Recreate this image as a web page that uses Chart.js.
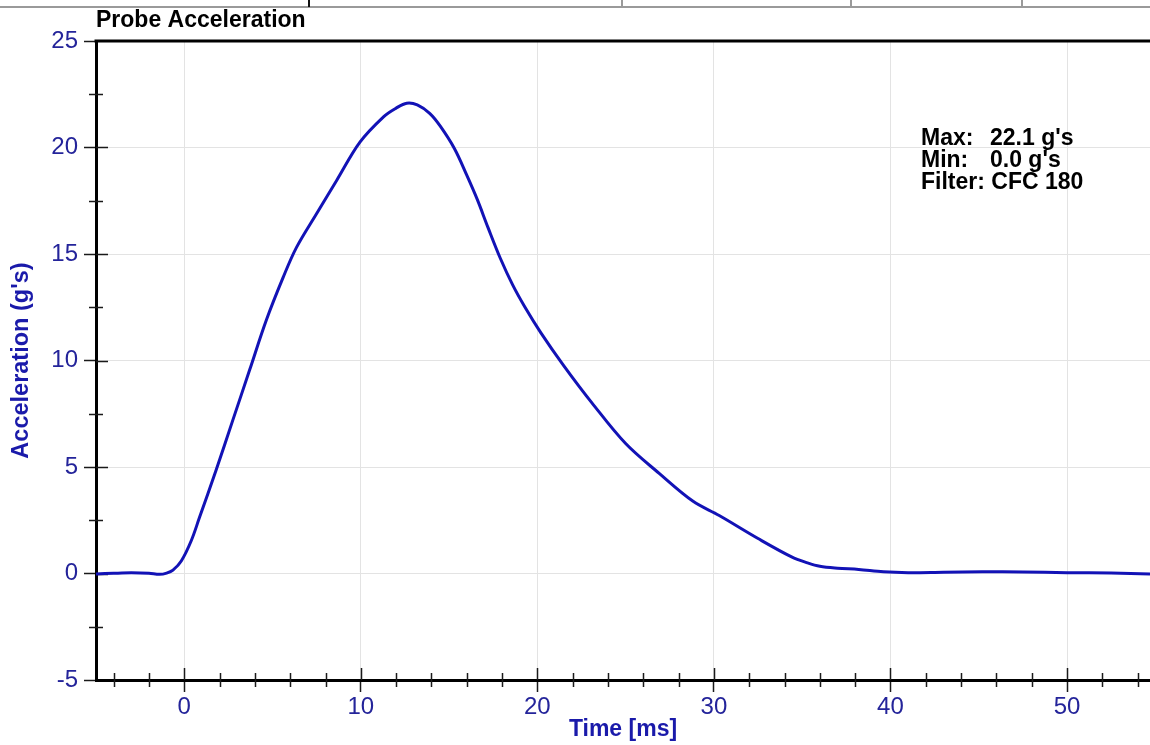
<!DOCTYPE html>
<html>
<head>
<meta charset="utf-8">
<script src="https://cdn.jsdelivr.net/npm/chart.js@4/dist/chart.umd.min.js"></script>
<style>
  html, body { margin: 0; padding: 0; background: #fff; overflow: hidden; }
  #wrap { width: 1150px; height: 745px; position: relative; }
</style>
</head>
<body>
<div id="wrap"><canvas id="c" width="1150" height="745"></canvas></div>
<script>
// ---- Data ----
const timeMs = [-5, -4, -3, -2, -1.4, -1.0, -0.64, -0.16, 0.4, 0.85, 1.8, 2.75, 3.7, 4.65, 5.6, 6.35, 7.5, 8.63, 9.95, 11.3, 12.0, 12.6, 13.2, 13.9, 14.5, 15.3, 16.0, 16.6, 17.2, 17.9, 18.6, 19.3, 20.2, 21.5, 23.1, 25.0, 26.9, 28.8, 30.3, 32.5, 34.4, 35.3, 36.0, 37.0, 38.2, 39.6, 41.0, 43.0, 45.2, 47.5, 50.0, 52.5, 54.7];
const accelG = [-0.02, 0.01, 0.03, 0.01, -0.04, 0.02, 0.16, 0.6, 1.55, 2.6, 4.85, 7.2, 9.55, 11.9, 13.9, 15.3, 16.9, 18.45, 20.25, 21.45, 21.85, 22.08, 22.0, 21.6, 21.0, 19.95, 18.7, 17.55, 16.25, 14.8, 13.55, 12.5, 11.3, 9.75, 8.0, 6.1, 4.7, 3.4, 2.72, 1.64, 0.78, 0.5, 0.34, 0.25, 0.19, 0.08, 0.04, 0.06, 0.08, 0.07, 0.04, 0.02, -0.02];
const xMajorTicks = [0, 10, 20, 30, 40, 50];
const xMinorTicks = [-4, -2, 2, 4, 6, 8, 12, 14, 16, 18, 22, 24, 26, 28, 32, 34, 36, 38, 42, 44, 46, 48, 52, 54];
const yMajorTicks = [-5, 0, 5, 10, 15, 20, 25];
const yMinorTicks = [-2.5, 2.5, 7.5, 12.5, 17.5, 22.5];
const xRange = [-5, 54.7];
const yRange = [-5, 25];
const chartTitle = 'Probe Acceleration';
const xTitle = 'Time [ms]';
const yTitle = "Acceleration (g's)";
const statLabels = ['Max:', 'Min:', 'Filter:'];
const statValues = ["22.1 g's", "0.0 g's", 'CFC 180'];

const FONT = "'Liberation Sans', Arial, sans-serif";
const TICK_COLOR = '#24249a';
const TITLE_COLOR = '#1a1aaa';

const decoPlugin = {
  id: 'deco',
  beforeDatasetsDraw(chart) {
    const { ctx, chartArea: a, scales: { x, y } } = chart;
    ctx.save();
    ctx.strokeStyle = '#1a1a1a';
    ctx.lineWidth = 1.5;
    ctx.beginPath();
    xMinorTicks.forEach(v => {
      const px = Math.round(x.getPixelForValue(v)) + 0.5;
      ctx.moveTo(px, a.bottom - 7); ctx.lineTo(px, a.bottom + 7);
    });
    xMajorTicks.forEach(v => {
      const px = Math.round(x.getPixelForValue(v)) + 0.5;
      ctx.moveTo(px, a.bottom - 12); ctx.lineTo(px, a.bottom);
    });
    yMinorTicks.forEach(v => {
      const py = Math.round(y.getPixelForValue(v)) + 0.5;
      ctx.moveTo(a.left - 7, py); ctx.lineTo(a.left + 7, py);
    });
    yMajorTicks.forEach(v => {
      if (v === yRange[0] || v === yRange[1]) return;
      const py = Math.round(y.getPixelForValue(v)) + 0.5;
      ctx.moveTo(a.left, py); ctx.lineTo(a.left + 12, py);
    });
    ctx.stroke();
    ctx.restore();
  },
  afterDraw(chart) {
    const { ctx, chartArea: a, width } = chart;
    ctx.save();
    // top frame line
    ctx.strokeStyle = '#000';
    ctx.lineWidth = 3;
    ctx.beginPath();
    ctx.moveTo(a.left - 1.5, a.top); ctx.lineTo(a.right, a.top);
    ctx.stroke();
    // strip of the header table above the chart
    ctx.strokeStyle = '#9a9a9a';
    ctx.lineWidth = 2;
    ctx.beginPath();
    ctx.moveTo(0, 7); ctx.lineTo(width, 7);
    [622, 851, 1022].forEach(px => { ctx.moveTo(px, 0); ctx.lineTo(px, 7); });
    ctx.stroke();
    ctx.strokeStyle = '#111';
    ctx.beginPath();
    ctx.moveTo(309, 0); ctx.lineTo(309, 7);
    ctx.stroke();
    // chart title
    ctx.fillStyle = '#000';
    ctx.font = 'bold 23px ' + FONT;
    ctx.textAlign = 'left';
    ctx.textBaseline = 'alphabetic';
    ctx.fillText(chartTitle, a.left, 27);
    // stats box
    ctx.font = 'bold 23px ' + FONT;
    statLabels.forEach((lab, i) => {
      const by = 145 + i * 22;
      if (i < 2) {
        ctx.fillText(lab, 921, by);
        ctx.fillText(statValues[i], 990, by);
      } else {
        ctx.fillText(lab + ' ' + statValues[i], 921, by);
      }
    });
    ctx.restore();
  }
};

new Chart(document.getElementById('c'), {
  type: 'line',
  data: {
    datasets: [{
      data: timeMs.map((t, i) => ({ x: t, y: accelG[i] })),
      borderColor: '#1212b6',
      borderWidth: 3,
      pointRadius: 0,
      fill: false,
      tension: 0.35
    }]
  },
  options: {
    responsive: false,
    devicePixelRatio: 1,
    animation: false,
    layout: { padding: { top: 41, left: 0, right: 0, bottom: 0 } },
    plugins: { legend: { display: false }, tooltip: { enabled: false }, title: { display: false } },
    scales: {
      x: {
        type: 'linear',
        min: xRange[0], max: xRange[1],
        afterBuildTicks: s => { s.ticks = xMajorTicks.map(v => ({ value: v })); },
        afterFit: s => { s.height = 65; },
        grid: { color: '#e3e3e3', lineWidth: 1, drawTicks: true, tickLength: 12, tickColor: '#1a1a1a', tickWidth: 1.5 },
        border: { display: true, color: '#000', width: 3 },
        ticks: { color: TICK_COLOR, font: { family: FONT, size: 24 }, padding: 1, maxRotation: 0, autoSkip: false },
        title: { display: true, text: xTitle, color: TITLE_COLOR, font: { family: FONT, size: 23, weight: 'bold' }, padding: { top: 0, bottom: 2 } }
      },
      y: {
        type: 'linear',
        min: yRange[0], max: yRange[1],
        afterBuildTicks: s => { s.ticks = yMajorTicks.map(v => ({ value: v })); },
        afterFit: s => { s.width = 96; },
        grid: { color: '#e3e3e3', lineWidth: 1, drawTicks: true, tickLength: 12, tickColor: '#1a1a1a', tickWidth: 1.5 },
        border: { display: true, color: '#000', width: 3 },
        ticks: { color: TICK_COLOR, font: { family: FONT, size: 24 }, padding: 6 },
        title: { display: true, text: yTitle, color: TITLE_COLOR, font: { family: FONT, size: 23.5, weight: 'bold' }, padding: { top: 7, bottom: 0 } }
      }
    }
  },
  plugins: [decoPlugin]
});
</script>
</body>
</html>
